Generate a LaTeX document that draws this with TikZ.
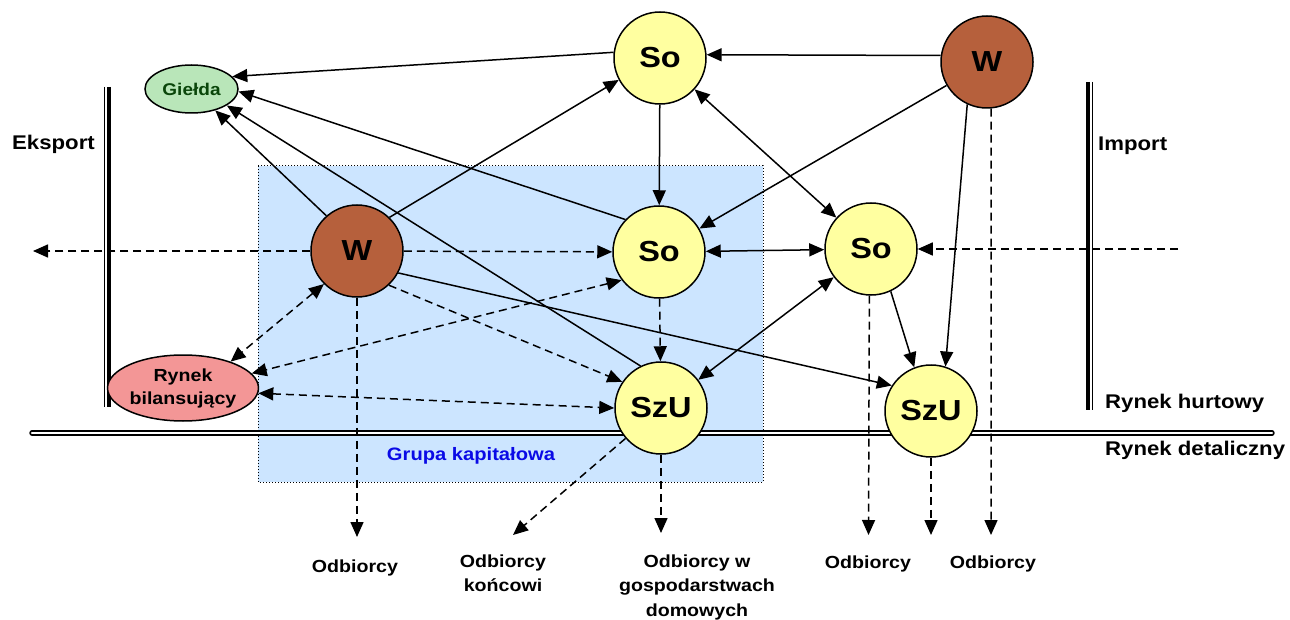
\documentclass[tikz,border=0pt]{standalone}
\usepackage{fontspec}
\setmainfont{Liberation Sans}[FakeStretch=1.12]
\usetikzlibrary{arrows.meta,shapes.geometric}
\definecolor{soyel}{RGB}{255,255,160}
\definecolor{wbrown}{RGB}{182,96,60}
\definecolor{gieldagreen}{RGB}{185,230,185}
\definecolor{gieldatext}{RGB}{10,70,10}
\definecolor{rbred}{RGB}{243,150,150}
\definecolor{boxblue}{RGB}{204,229,255}
\definecolor{grupablue}{RGB}{10,10,230}
\begin{document}
\begin{tikzpicture}[x=1pt,y=-1pt,
  circ/.style={circle, draw, line width=1.5pt, minimum size=92pt, inner sep=0pt,
    font=\fontsize{29}{29}\selectfont\bfseries},
  yel/.style={circ, fill=soyel},
  brn/.style={circ, fill=wbrown},
  ln/.style={line width=1.5pt},
  ar/.style={ln, -{Triangle[length=15pt,width=13pt]}},
  dar/.style={ln, {Triangle[length=15pt,width=13pt]}-{Triangle[length=15pt,width=13pt]}},
  dsh/.style={dash pattern=on 8pt off 5pt},
  lab/.style={font=\fontsize{17.5}{24.5}\selectfont\bfseries, inner sep=0pt},
  big/.style={font=\fontsize{19.8}{24}\selectfont\bfseries, inner sep=0pt}
]
\useasboundingbox (0,0) rectangle (1290,620);

% capital group box
\draw[fill=boxblue, dotted, line width=1pt] (258,166) rectangle (763,482);
\node[font=\fontsize{18}{18}\selectfont\bfseries, text=grupablue, anchor=base, inner sep=0pt] (grupa) at (471,460) {Grupa kapitałowa};

% market separators
\coordinate (hl) at (32,433);
\coordinate (hr) at (1272,433);
\draw[line width=1.6pt, double=white, double distance=2.2pt, line cap=round] (hl) -- (hr);
\coordinate (lbt) at (104.5,87);
\coordinate (lbb) at (104.5,407);
\coordinate (lbt2) at (108.5,87);
\coordinate (lbb2) at (108.5,407);
\draw[line width=1.3pt] (lbt) -- (lbb);
\draw[line width=4pt] (lbt2) -- (lbb2);
\coordinate (rbt) at (1088,82);
\coordinate (rbb) at (1088,410);
\coordinate (rbt2) at (1092.3,82);
\coordinate (rbb2) at (1092.3,410);
\draw[line width=4pt] (rbt) -- (rbb);
\draw[line width=1.3pt] (rbt2) -- (rbb2);

% nodes
\node[yel] (Sot) at (660,58) {So};
\node[brn] (Wtr) at (987,62) {W};
\node[yel] (Som) at (659,252) {So};
\node[yel] (Sor) at (871,249) {So};
\node[brn] (Wl) at (357,251) {W};
\node[yel] (SzUb) at (661,408) {SzU};
\node[yel] (SzUr) at (931,411) {SzU};
\node[ellipse, draw, line width=1.5pt, fill=gieldagreen, minimum width=93pt, minimum height=48pt, inner sep=0pt,
  font=\fontsize{17}{17}\selectfont\bfseries, text=gieldatext] (G) at (191.5,89) {Giełda};
\node[ellipse, draw, line width=1.5pt, fill=rbred, minimum width=144pt, minimum height=66pt, inner sep=0pt,
  align=center, font=\fontsize{17.5}{23}\selectfont\bfseries] (RB) at (183,388) {Rynek\\bilansujący};

% labels
\node[big, anchor=base west] (eks) at (12,150) {Eksport};
\node[big, anchor=base west] (imp) at (1098,151) {Import};
\node[big, anchor=base west] (hurt) at (1105,408) {Rynek hurtowy};
\node[big, anchor=base west] (det) at (1105,455) {Rynek detaliczny};
\node[lab, anchor=base] (o1) at (355,572) {Odbiorcy};
\node[lab, anchor=north, align=center] (o2) at (503,554.5) {Odbiorcy\\końcowi};
\node[lab, anchor=north, align=center] (o3) at (697,554.5) {Odbiorcy w\\gospodarstwach\\domowych};
\node[lab, anchor=base] (o4) at (868,568) {Odbiorcy};
\node[lab, anchor=base] (o5) at (993,568) {Odbiorcy};

% free ends
\coordinate (ekA) at (33,251);
\coordinate (imA) at (1178,249);
\coordinate (d1) at (357,537);
\coordinate (d2) at (513,535);
\coordinate (d3) at (661,533);
\coordinate (d4) at (868.5,535);
\coordinate (d5) at (931,535);
\coordinate (d6) at (991,535);

% solid connectors
\draw[ar] (Wtr.172) -- (Sot.4);
\draw[ar] (Sot.173) -- (G.17);
\draw[ar] (Som.136) -- (G.-3);
\draw[ar] (SzUb.116) -- (G.-25);
\draw[ar] (Wl.131) -- (G.-42);
\draw[ar] (Wl.46) -- (Sot.208);
\draw[ar] (Sot) -- (Som);
\draw[dar] (Sot) -- (Sor);
\draw[ar] (Wtr) -- (Som);
\draw[ar] (Wtr.245) -- (SzUr.72);
\draw[dar] (Som) -- (Sor);
\draw[dar] (Sor) -- (SzUb);
\draw[ar] (Sor.-65) -- (SzUr.111);
\draw[ar] (Wl.-28) -- (SzUr.147);

% dashed connectors
\draw[ar, dsh] (Wl) -- (Som);
\draw[ar, dsh] (Wl) -- (ekA);
\draw[ar, dsh] (imA) -- (Sor);
\draw[dar, dsh] (Wl.225) -- (RB.29);
\draw[dar, dsh] (Som.217) -- (RB.12);
\draw[dar, dsh] (RB.-4) -- (SzUb.180);
\draw[ar, dsh] (Wl.-47) -- (SzUb.146);
\draw[ar, dsh] (Som) -- (SzUb);
\draw[ar, dsh] (Wl) -- (d1);
\draw[ar, dsh] (SzUb) -- (d2);
\draw[ar, dsh] (SzUb) -- (d3);
\draw[ar, dsh] (Sor.-92) -- (d4);
\draw[ar, dsh] (SzUr) -- (d5);
\draw[ar, dsh] (Wtr.-85) -- (d6);
\end{tikzpicture}
\end{document}
